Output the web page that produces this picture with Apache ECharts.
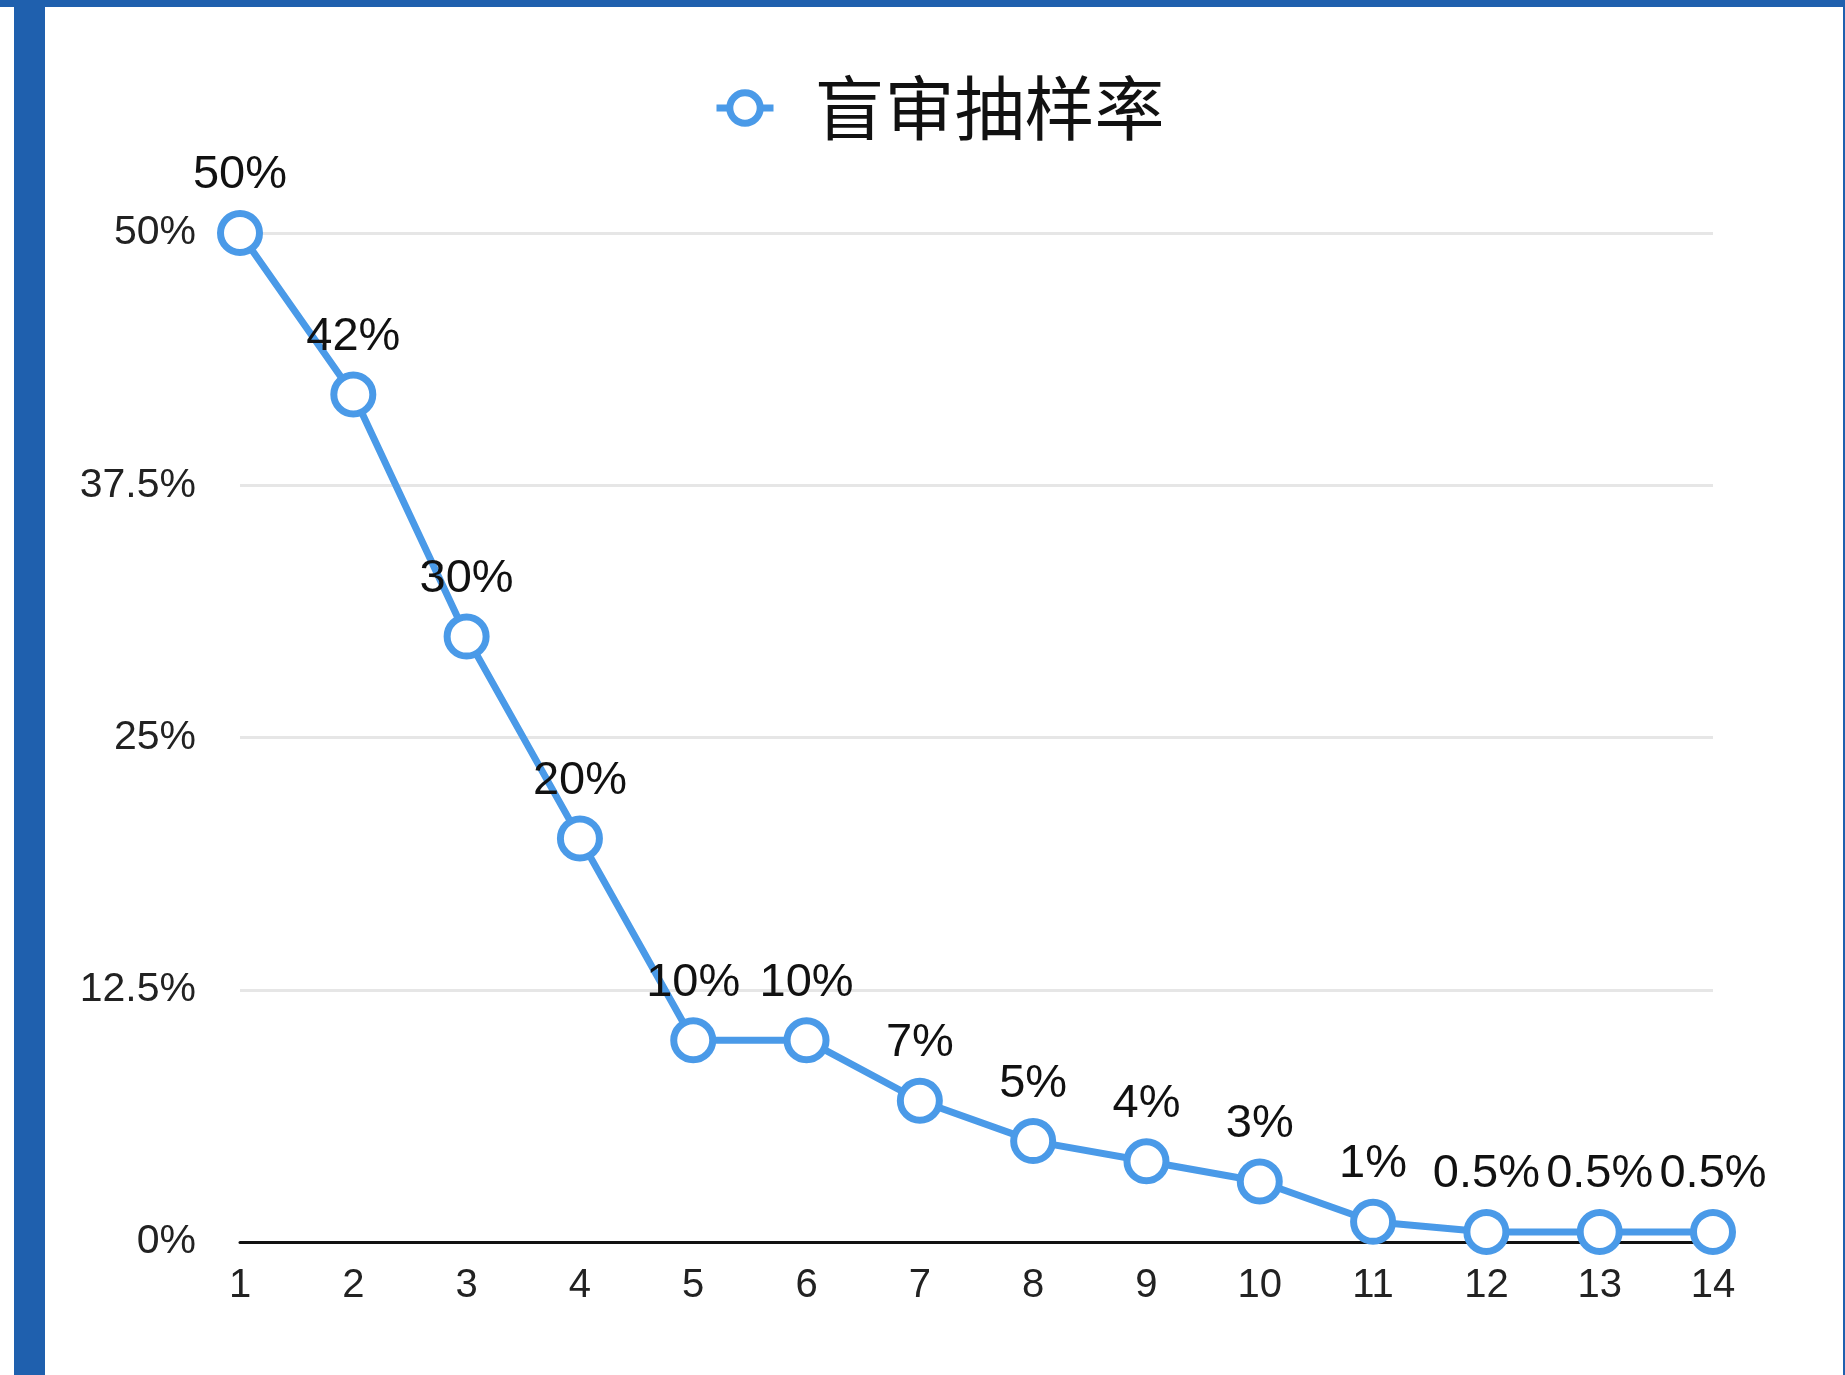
<!DOCTYPE html>
<html>
<head>
<meta charset="utf-8">
<style>
html,body{margin:0;padding:0;background:#fff;}
#c{width:1845px;height:1375px;}
</style>
<script src="https://cdn.jsdelivr.net/npm/echarts@6/dist/echarts.min.js"></script>
</head>
<body>
<div id="c"></div>
<script>
const categories = ['1','2','3','4','5','6','7','8','9','10','11','12','13','14'];
const seriesName = '盲审抽样率';
const rates = [50, 42, 30, 20, 10, 10, 7, 5, 4, 3, 1, 0.5, 0.5, 0.5];
const yTicks = [0, 12.5, 25, 37.5, 50];

const chart = echarts.init(document.getElementById('c'), null, {renderer: 'canvas'});
const blue = '#4A9AE8';
const frame = '#1F60AE';
const fontFam = '"Liberation Sans", Arial, Helvetica, sans-serif';

chart.setOption({
  backgroundColor: '#ffffff',
  animation: false,
  graphic: [
    {type: 'rect', shape: {x: 0, y: 0, width: 1845, height: 7}, style: {fill: frame}, z: 100},
    {type: 'rect', shape: {x: 14, y: 0, width: 31, height: 1375}, style: {fill: frame}, z: 100},
    {type: 'rect', shape: {x: 1843, y: 0, width: 2, height: 1375}, style: {fill: frame}, z: 100}
  ],
  legend: {
    data: [seriesName],
    left: 713,
    top: 73,
    padding: 0,
    itemWidth: 57,
    itemHeight: 38,
    lineStyle: {width: 7, color: blue},
    itemStyle: {color: '#ffffff', borderColor: blue, borderWidth: 7},
    textStyle: {
      fontSize: 70,
      color: '#111',
      fontFamily: '"Noto Sans CJK SC", sans-serif',
      padding: [0, 0, 0, 36]
    }
  },
  grid: {left: 240, right: 132, top: 233, bottom: 133, containLabel: false},
  xAxis: {
    type: 'category',
    data: categories,
    boundaryGap: false,
    axisLine: {show: true, lineStyle: {color: '#111', width: 3}},
    axisTick: {show: false},
    axisLabel: {fontSize: 40, color: '#222', margin: 24, fontFamily: fontFam},
    splitLine: {show: false}
  },
  yAxis: {
    type: 'value',
    min: yTicks[0],
    max: yTicks[yTicks.length - 1],
    interval: yTicks[1] - yTicks[0],
    axisLine: {show: false},
    axisTick: {show: false},
    axisLabel: {fontSize: 41, color: '#222', margin: 44, fontFamily: fontFam,
      padding: [8, 0, 0, 0],
      formatter: v => v + '%'},
    splitLine: {show: true, lineStyle: {color: '#e6e6e6', width: 3}}
  },
  series: [{
    name: seriesName,
    type: 'line',
    data: rates,
    symbol: 'circle',
    symbolSize: 39,
    showAllSymbol: true,
    lineStyle: {color: blue, width: 7},
    itemStyle: {color: '#ffffff', borderColor: blue, borderWidth: 7},
    label: {
      show: true,
      position: 'top',
      distance: 11,
      fontSize: 47,
      color: '#111',
      fontFamily: fontFam,
      formatter: p => p.value + '%'
    },
    z: 3
  }]
});
</script>
</body>
</html>
